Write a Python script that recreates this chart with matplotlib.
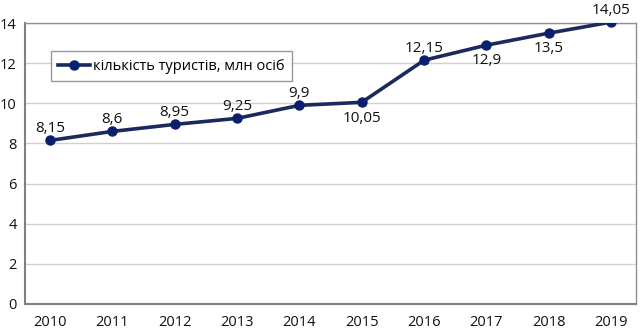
import matplotlib.pyplot as plt

years = ["2010", "2011", "2012", "2013", "2014", "2015", "2016", "2017", "2018", "2019"]
tourists = [8.15, 8.6, 8.95, 9.25, 9.9, 10.05, 12.15, 12.9, 13.5, 14.05]
labels = ["8,15", "8,6", "8,95", "9,25", "9,9", "10,05", "12,15", "12,9", "13,5", "14,05"]
# label placement: above or below the marker
above = [True, True, True, True, True, False, True, False, False, True]

plt.rcParams["font.family"] = ["Open Sans", "DejaVu Sans"]

fig, ax = plt.subplots(figsize=(6.4, 3.3), dpi=100)
fig.subplots_adjust(left=0.039, right=0.994, top=0.93, bottom=0.079)

x = list(range(len(years)))
ax.plot(x, tourists, color="#1a2a5c", lw=2.6, marker="o", ms=6.5,
        mfc="#0a1f6e", mec="#0a1f6e", label="кількість туристів, млн осіб", zorder=3)

for xi, yi, lab, up in zip(x, tourists, labels, above):
    ax.annotate(lab, (xi, yi), xytext=(0, 3 if up else -6), textcoords="offset points",
                ha="center", va="bottom" if up else "top", fontsize=11,
                color="#111111", annotation_clip=False)

ax.set_xlim(-0.4, 9.4)
ax.set_ylim(0, 14)
ax.set_yticks(range(0, 15, 2))
ax.set_xticks(x)
ax.set_xticklabels(years)
ax.tick_params(axis="both", length=0, labelsize=10.5, colors="#111111")
ax.tick_params(axis="x", pad=8)
ax.tick_params(axis="y", pad=6)
ax.grid(axis="y", color="#d0d0d0", lw=1)
ax.set_axisbelow(True)
for side in ["left", "bottom"]:
    ax.spines[side].set_color("#808080")
    ax.spines[side].set_linewidth(1.5)
for side in ["right", "top"]:
    ax.spines[side].set_color("#909090")
    ax.spines[side].set_linewidth(1)

leg = ax.legend(loc="upper left", bbox_to_anchor=(0.03, 0.925), fontsize=10.5,
                frameon=True, fancybox=False, edgecolor="#808080",
                handlelength=2.2, borderpad=0.5, handletextpad=0.2)
leg.get_frame().set_linewidth(1)

fig.savefig("out.png", dpi=100)
